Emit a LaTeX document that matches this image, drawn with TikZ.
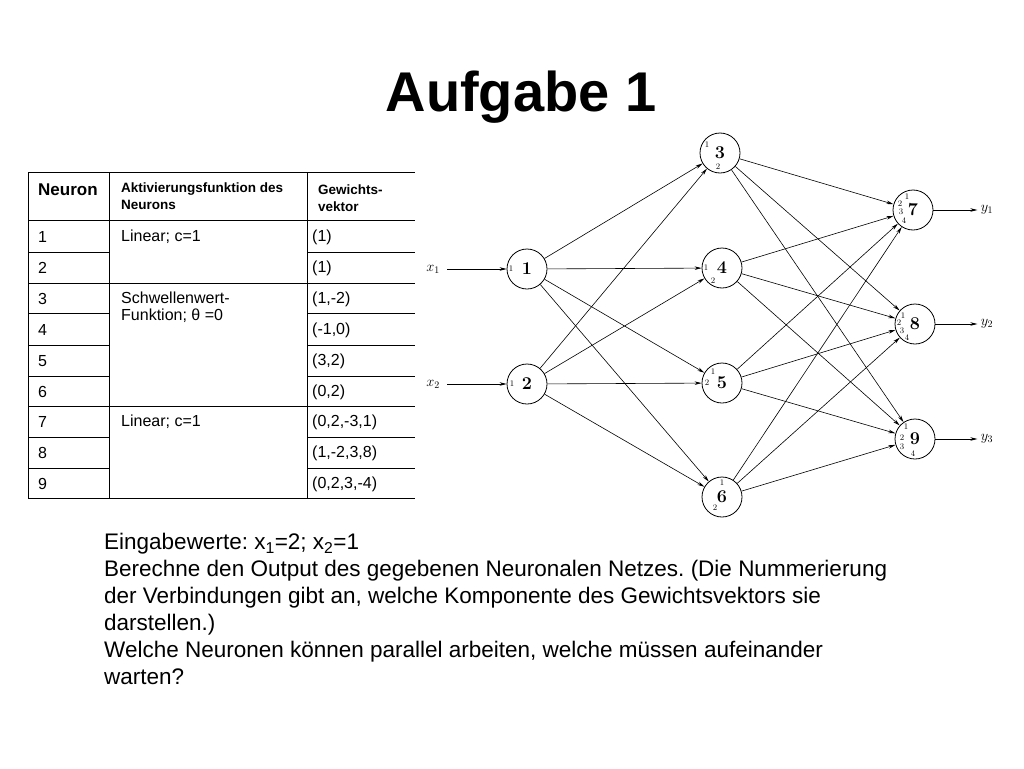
\documentclass[tikz,border=0pt]{standalone}
\usepackage{fontspec}
\setsansfont{Liberation Sans}
\usetikzlibrary{arrows.meta}
\frenchspacing

\begin{document}
\begin{tikzpicture}[
  x=1pt, y=-1pt,
  neuron/.style={circle,draw,line width=0.8pt,minimum size=40pt,inner sep=0pt,font=\fontsize{18}{18}\selectfont\bfseries},
  port/.style={inner sep=0pt,font=\fontsize{8.5}{8.5}\selectfont},
  io/.style={font=\fontsize{14}{14}\selectfont},
  conn/.style={line width=0.6pt,-{Stealth[length=7pt,width=3.5pt]}},
  grid/.style={line width=1pt},
  cell/.style={anchor=west,inner sep=0pt,font=\sffamily\fontsize{16}{16}\selectfont},
  head/.style={anchor=west,inner sep=0pt,align=left,font=\sffamily\bfseries\fontsize{13.5}{17}\selectfont}
]
  \useasboundingbox[fill=white] (0,0) rectangle (1024,768);
  \node[font=\sffamily\bfseries\fontsize{56}{60}\selectfont] (title) at (521,97) {Aufgabe 1};

  % table
  \foreach \y in {172,220,283,406,498}
    \draw[grid] (28,\y) -- (415,\y);
  \foreach \y in {252,313,345,376,437,468}
    \draw[grid] (28,\y) -- (109,\y) (307,\y) -- (415,\y);
  \foreach \x in {28,109,307}
    \draw[grid] (\x,172) -- (\x,498);
  \node[cell,font=\sffamily\bfseries\fontsize{17}{17}\selectfont] (hneuron) at (38,190) {Neuron};
  \node[head] (hakt) at (121,196) {Aktivierungsfunktion des\\Neurons};
  \node[head] (hgew) at (318,198) {Gewichts-\\vektor};
  \foreach \n/\y/\w in {1/237/{(1)},2/268/{(1)},3/299/{(1,-2)},4/330/{(-1,0)},5/361/{(3,2)},
                        6/392/{(0,2)},7/422/{(0,2,-3,1)},8/453/{(1,-2,3,8)},9/484/{(0,2,3,-4)}}{
    \node[cell] (num\n) at (38,\y) {\n};
    \node[cell] (vec\n) at (312,\y) {\w};
  }
  \node[cell] (akt1) at (121,237) {Linear; c=1};
  \node[cell,align=left,font=\sffamily\fontsize{16}{17}\selectfont] (akt2) at (121,307) {Schwellenwert-\\Funktion; θ =0};
  \node[cell] (akt3) at (121,422) {Linear; c=1};

  % network
  \node[neuron] (n1) at (527,269) {1};
  \node[neuron] (n2) at (527,384) {2};
  \node[neuron] (n3) at (720,153) {3};
  \node[neuron] (n4) at (722,268) {4};
  \node[neuron] (n5) at (722,383) {5};
  \node[neuron] (n6) at (722,497) {6};
  \node[neuron] (n7) at (913,210) {7};
  \node[neuron] (n8) at (915,324) {8};
  \node[neuron] (n9) at (915,439) {9};

  \node[io] (x1) at (433,269) {$x_1$};
  \node[io] (x2) at (433,384) {$x_2$};
  \node[io] (y1) at (987,210) {$y_1$};
  \node[io] (y2) at (987,324) {$y_2$};
  \node[io] (y3) at (987,439) {$y_3$};

  \draw[conn,shorten <=4pt] (x1) -- (n1);
  \draw[conn,shorten <=4pt] (x2) -- (n2);
  \draw[conn] (n1) -- (n3);
  \draw[conn] (n2) -- (n3);
  \draw[conn] (n1) -- (n4);
  \draw[conn] (n2) -- (n4);
  \draw[conn] (n1) -- (n5);
  \draw[conn] (n2) -- (n5);
  \draw[conn] (n1) -- (n6);
  \draw[conn] (n2) -- (n6);
  \draw[conn] (n3) -- (n7);
  \draw[conn] (n4) -- (n7);
  \draw[conn] (n5) -- (n7);
  \draw[conn] (n6) -- (n7);
  \draw[conn] (n3) -- (n8);
  \draw[conn] (n4) -- (n8);
  \draw[conn] (n5) -- (n8);
  \draw[conn] (n6) -- (n8);
  \draw[conn] (n3) -- (n9);
  \draw[conn] (n4) -- (n9);
  \draw[conn] (n5) -- (n9);
  \draw[conn] (n6) -- (n9);
  \draw[conn] (n7) -- (y1);
  \draw[conn] (n8) -- (y2);
  \draw[conn] (n9) -- (y3);

  % input numbers
  \node[port] (p1a) at (511,269) {1};
  \node[port] (p2a) at (512,384) {1};
  \node[port] (p3a) at (707,145) {1};
  \node[port] (p3b) at (718,167) {2};
  \node[port] (p4a) at (706,268) {1};
  \node[port] (p4b) at (713,281) {2};
  \node[port] (p5a) at (713,372) {1};
  \node[port] (p5b) at (707,383) {2};
  \node[port] (p6a) at (722,483) {1};
  \node[port] (p6b) at (715,508) {2};
  \node[port] (p7a) at (907,197) {1};
  \node[port] (p7b) at (900,204) {2};
  \node[port] (p7c) at (901,212) {3};
  \node[port] (p7d) at (904,221) {4};
  \node[port] (p8a) at (903,316) {1};
  \node[port] (p8b) at (899,323) {2};
  \node[port] (p8c) at (902,331) {3};
  \node[port] (p8d) at (907,338) {4};
  \node[port] (p9a) at (906,427) {1};
  \node[port] (p9b) at (902,438) {2};
  \node[port] (p9c) at (902,447) {3};
  \node[port] (p9d) at (913,454) {4};

  % task text
  \node[anchor=north west,inner sep=0pt,align=left,font=\sffamily\fontsize{22.5}{27}\selectfont] (task) at (104,533)
    {Eingabewerte: x\textsubscript{1}=2; x\textsubscript{2}=1\\
     Berechne den Output des gegebenen Neuronalen Netzes. (Die Nummerierung\\
     der Verbindungen gibt an, welche Komponente des Gewichtsvektors sie\\
     darstellen.)\\
     Welche Neuronen können parallel arbeiten, welche müssen aufeinander\\
     warten?};
\end{tikzpicture}
\end{document}
